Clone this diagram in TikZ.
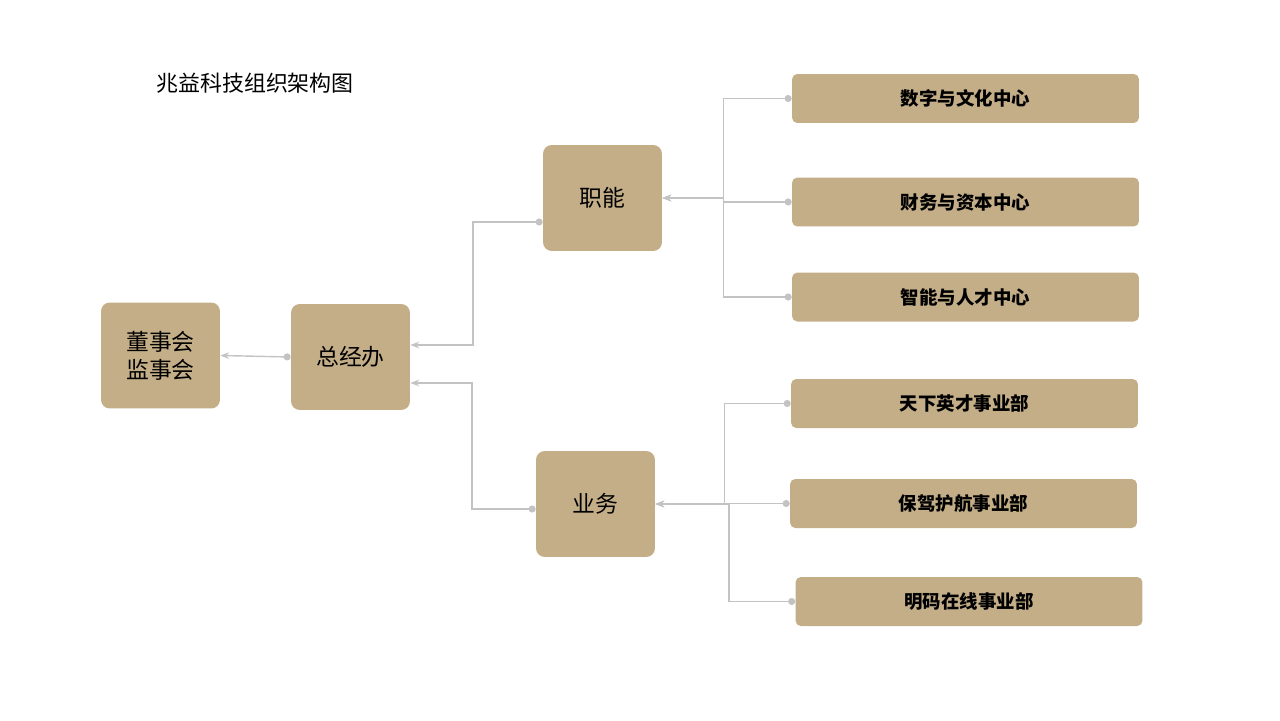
\documentclass[tikz,border=0pt]{standalone}
\usepackage{fontspec}
\setmainfont{Noto Sans CJK SC}
\usetikzlibrary{arrows.meta}
\definecolor{boxtan}{HTML}{C4AE88}
\definecolor{linegray}{HTML}{C3C3C3}
\tikzset{
  unit/.style={fill=boxtan, rounded corners=5pt, minimum width=2.38cm, minimum height=2.12cm, font=\fontsize{13}{16}\selectfont, align=center},
  dept/.style={fill=boxtan, rounded corners=3pt, minimum width=6.94cm, minimum height=0.98cm, font=\fontsize{10.5}{12}\selectfont\bfseries},
  conn/.style={draw=linegray, line width=0.8pt, {Circle[length=4pt]}-{Stealth[length=5pt]}},
}
\begin{document}
\begin{tikzpicture}[x=0.02cm, y=-0.02cm]
\useasboundingbox (0,0) rectangle (1280,720);

% title
\node[anchor=west, font=\fontsize{12.5}{14}\selectfont] (title) at (150,83) {兆益科技组织架构图};

% main units
\node[unit] (board) at (160.5,355.5) {董事会\\监事会};
\node[unit] (gm) at (350.5,357) {总经办};
\node[unit] (func) at (602.5,198) {职能};
\node[unit] (biz) at (595.5,504) {业务};

% departments
\node[dept] (d1) at (965.5,98.5) {数字与文化中心};
\node[dept] (d2) at (965.5,202) {财务与资本中心};
\node[dept] (d3) at (965.5,297) {智能与人才中心};
\node[dept] (d4) at (964.5,403.5) {天下英才事业部};
\node[dept] (d5) at (963.5,503.5) {保驾护航事业部};
\node[dept] (d6) at (969,601.5) {明码在线事业部};

% connectors
\foreach \d in {d1,d2,d3}
  \draw[conn] (\d.west) -- ++(-68,0) |- (func.east);
\foreach \d in {d4,d5,d6}
  \draw[conn] (\d.west) -- ++(-66,0) |- (biz.east);
\draw[conn] (func.west |- 0,222) -- (473,222) |- (gm.east |- 0,345);
\draw[conn] (biz.west |- 0,509) -- (472,509) |- (gm.east |- 0,383);
\draw[conn] (gm.west) -- (board.east);

\end{tikzpicture}
\end{document}
